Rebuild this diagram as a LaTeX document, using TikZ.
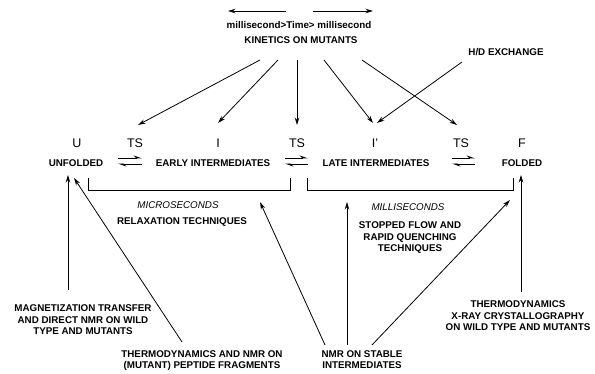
\documentclass[tikz,border=0pt]{standalone}
\usepackage{fontspec}
\setmainfont{Liberation Sans}
\usetikzlibrary{arrows.meta}
\begin{document}
\begin{tikzpicture}[x=1pt,y=1pt,
  lbl/.style={font=\fontsize{9.8}{11.5}\selectfont\bfseries, align=center, inner sep=0pt},
  ital/.style={font=\fontsize{9.8}{11.5}\selectfont\itshape, inner sep=0pt},
  statelbl/.style={font=\fontsize{12.5}{14}\selectfont, inner sep=0pt},
  arr/.style={-{Stealth[length=7.5pt,width=4.5pt]}, line width=0.8pt},
  harp/.style={-{Stealth[harpoon,length=7pt,width=5pt]}, line width=0.9pt},
  brk/.style={line width=0.8pt}]
\useasboundingbox (0,0) rectangle (595,374);
% top
\node[lbl] (time) at (299,349) {millisecond>Time> millisecond};
\node[lbl] (kin) at (301,334) {KINETICS ON MUTANTS};
\node[lbl] (hd) at (506,322) {H/D EXCHANGE};
\coordinate (tla) at (286,363); \coordinate (tlb) at (228,363);
\coordinate (tra) at (313,363); \coordinate (trb) at (373,363);
\draw[arr] (tla) -- (tlb);
\draw[arr] (tra) -- (trb);
% states
\node[statelbl] (u) at (77,231) {U};
\node[statelbl] (ts1) at (135,231) {TS};
\node[statelbl] (i) at (218,231) {I};
\node[statelbl] (ts2) at (297,231) {TS};
\node[statelbl] (ip) at (375,231) {I'};
\node[statelbl] (ts3) at (461,231) {TS};
\node[statelbl] (f) at (522,231) {F};
\node[lbl] (unf) at (76,211) {UNFOLDED};
\node[lbl] (early) at (213,211) {EARLY INTERMEDIATES};
\node[lbl] (late) at (376,211) {LATE INTERMEDIATES};
\node[lbl] (fold) at (522,211) {FOLDED};
% equilibria
\coordinate (e1a) at (118,216); \coordinate (e1b) at (142,216);
\coordinate (e1c) at (142,210); \coordinate (e1d) at (118,210);
\coordinate (e2a) at (285,216); \coordinate (e2b) at (308,216);
\coordinate (e2c) at (308,210); \coordinate (e2d) at (285,210);
\coordinate (e3a) at (452,216); \coordinate (e3b) at (475,216);
\coordinate (e3c) at (475,210); \coordinate (e3d) at (452,210);
\draw[harp] (e1a) -- (e1b); \draw[harp] (e1c) -- (e1d);
\draw[harp] (e2a) -- (e2b); \draw[harp] (e2c) -- (e2d);
\draw[harp] (e3a) -- (e3b); \draw[harp] (e3c) -- (e3d);
% brackets
\coordinate (b1a) at (88,196); \coordinate (b1b) at (290,196);
\coordinate (b2a) at (307,196); \coordinate (b2b) at (513,196);
\draw[brk] (b1a) -- ++(0,-12) -| (b1b);
\draw[brk] (b2a) -- ++(0,-12) -| (b2b);
\node[ital] (micro) at (178,169) {MICROSECONDS};
\node[lbl] (relax) at (182,152) {RELAXATION TECHNIQUES};
\node[ital] (milli) at (408,167) {MILLISECONDS};
\node[lbl] (stopped) at (410,136) {STOPPED FLOW AND\\RAPID QUENCHING\\TECHNIQUES};
% bottom labels
\node[lbl] (mag) at (83,54) {MAGNETIZATION TRANSFER\\AND DIRECT NMR ON WILD\\TYPE AND MUTANTS};
\node[lbl] (pep) at (202,13.5) {THERMODYNAMICS AND NMR ON\\(MUTANT) PEPTIDE FRAGMENTS};
\node[lbl] (stab) at (362,14.5) {NMR ON STABLE\\INTERMEDIATES};
\node[lbl] (xray) at (518,58) {THERMODYNAMICS\\X-RAY CRYSTALLOGRAPHY\\ON WILD TYPE AND MUTANTS};
% connector ends
\coordinate (k1) at (260,314); \coordinate (k2) at (278,314); \coordinate (k3) at (297,314);
\coordinate (k4) at (324,314); \coordinate (k5) at (362,314); \coordinate (h1) at (462,312);
\coordinate (t1) at (138,249); \coordinate (t2) at (218,251); \coordinate (t3) at (297,249);
\coordinate (t4) at (373,251); \coordinate (t5) at (457,249); \coordinate (t6) at (377,251);
\draw[arr] (k1) -- (t1);
\draw[arr] (k2) -- (t2);
\draw[arr] (k3) -- (t3);
\draw[arr] (k4) -- (t4);
\draw[arr] (k5) -- (t5);
\draw[arr] (h1) -- (t6);
\coordinate (m1) at (68,84); \coordinate (m2) at (68,199);
\coordinate (p1) at (182,32); \coordinate (p2) at (74,196);
\coordinate (s1) at (325,29); \coordinate (s2) at (260,172);
\coordinate (s3) at (347,29); \coordinate (s4) at (347,172);
\coordinate (s5) at (372,29); \coordinate (s6) at (510,174);
\coordinate (x1) at (521,82); \coordinate (x2) at (521,199);
\draw[arr] (m1) -- (m2);
\draw[arr] (p1) -- (p2);
\draw[arr] (s1) -- (s2);
\draw[arr] (s3) -- (s4);
\draw[arr] (s5) -- (s6);
\draw[arr] (x1) -- (x2);
\end{tikzpicture}
\end{document}
